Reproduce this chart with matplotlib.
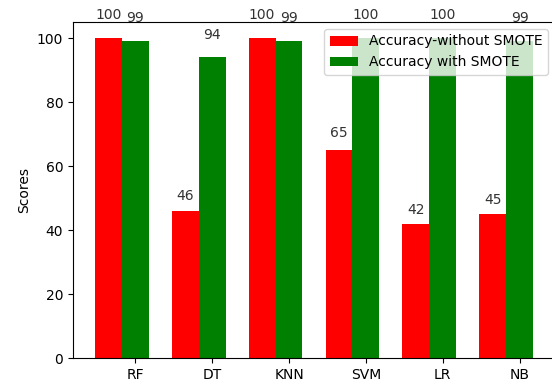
import numpy as np
import matplotlib
matplotlib.use("Agg")
import matplotlib.pyplot as plt

# Scores per classifier
models = ['RF', 'DT', 'KNN', 'SVM', 'LR', 'NB']
acc_without_smote = [100, 46, 100, 65, 42, 45]
acc_with_smote = [99, 94, 99, 100, 100, 99]

bar_width = 0.35
r1 = np.arange(len(models))
r2 = r1 + bar_width

fig = plt.figure(figsize=(5.52, 3.86), dpi=100)
# the original image is cropped just before the right spine
ax = fig.add_axes([73 / 552, 28 / 386, 482 / 552, 336 / 386])
ax.spines['right'].set_visible(False)

bars1 = ax.bar(r1, acc_without_smote, bar_width, color='red', label='Accuracy-without SMOTE')
bars2 = ax.bar(r2, acc_with_smote, bar_width, color='green', label='Accuracy with SMOTE')


def autolabel(rects):
    # put the value just above each bar
    for rect in rects:
        height = rect.get_height()
        ax.text(rect.get_x() + rect.get_width() / 2., 1.05 * height,
                '%d' % int(height), ha='center', va='bottom', fontsize=10, color='#333333')


autolabel(bars1)
autolabel(bars2)

ax.set_xticks(r2)
ax.set_xticklabels(models)
ax.set_ylabel('Scores')
ax.legend(loc='upper right')

plt.savefig("out.png", dpi=100)
